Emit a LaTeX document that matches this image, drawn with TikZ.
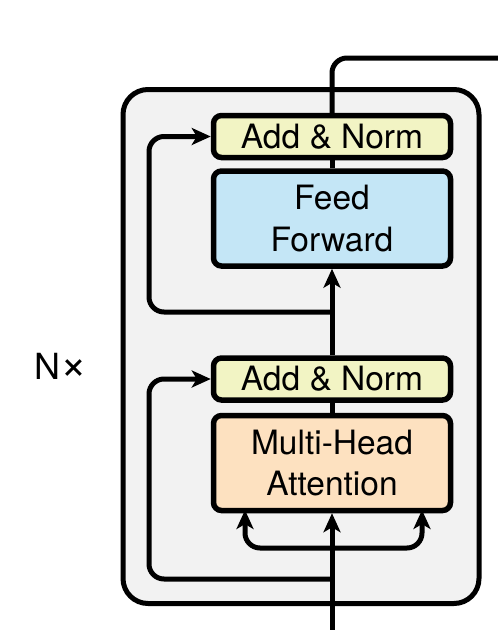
\documentclass[tikz,border=0pt]{standalone}
\usepackage{fontspec}
\setmainfont{TeX Gyre Heros}
\usetikzlibrary{arrows.meta}
\definecolor{outerfill}{HTML}{F2F2F2}
\definecolor{anfill}{HTML}{F2F4C4}
\definecolor{fffill}{HTML}{C4E6F6}
\definecolor{mhafill}{HTML}{FDE1C0}
\tikzset{
  blk/.style={draw=black, line width=5.5pt, rounded corners=8pt, inner sep=0pt,
    minimum width=237pt, align=center, font=\fontsize{33.5}{41.5}\selectfont},
  anbox/.style={blk, fill=anfill, minimum height=42pt},
  bigbox/.style={blk, minimum height=95pt},
  conn/.style={line width=5pt, rounded corners=15pt},
  tip/.style={-{Stealth[length=19pt,width=17pt,inset=5pt]}},
}
\begin{document}
\begin{tikzpicture}[x=1pt,y=-1pt]
\useasboundingbox (0,0) rectangle (498,630);
% outer block
\node[draw=black, line width=5pt, rounded corners=25pt, fill=outerfill,
  minimum width=356pt, minimum height=514pt, inner sep=0pt] (outer) at (301,346.5) {};
\node[font=\fontsize{36}{42}\selectfont, inner sep=0pt] (nx) at (61,366) {N{\fontsize{46}{46}\selectfont ×}};
% blocks
\node[anbox] (an2) at (332,136.5) {Add \& Norm};
\node[bigbox, fill=fffill] (ff) at (332,218.5) {Feed\\Forward};
\node[anbox] (an1) at (332,379) {Add \& Norm};
\node[bigbox, fill=mhafill] (mha) at (332,463) {Multi-Head\\Attention};
% coordinates
\coordinate (in) at (332,630);
\coordinate (br) at (332,548);
\coordinate (res1) at (332,579);
\coordinate (res2) at (332,312);
\coordinate (out) at (505,58);
% main line
\draw[conn, tip] (in) -- (mha.south);
\draw[conn] (mha.north) -- (an1.south);
\draw[conn, tip] (an1.north) -- (ff.south);
\draw[conn] (ff.north) -- (an2.south);
\draw[conn] (an2.north) -- (332,58) -- (out);
% branches into attention
\draw[conn, tip] (br) -- (245,548) -- (245,510);
\draw[conn, tip] (br) -- (422,548) -- (422,510);
% residuals
\draw[conn, tip] (res1) -- (149,579) -- (149,379) -- (an1.west);
\draw[conn, tip] (res2) -- (149,312) -- (149,136.5) -- (an2.west);
\end{tikzpicture}
\end{document}
